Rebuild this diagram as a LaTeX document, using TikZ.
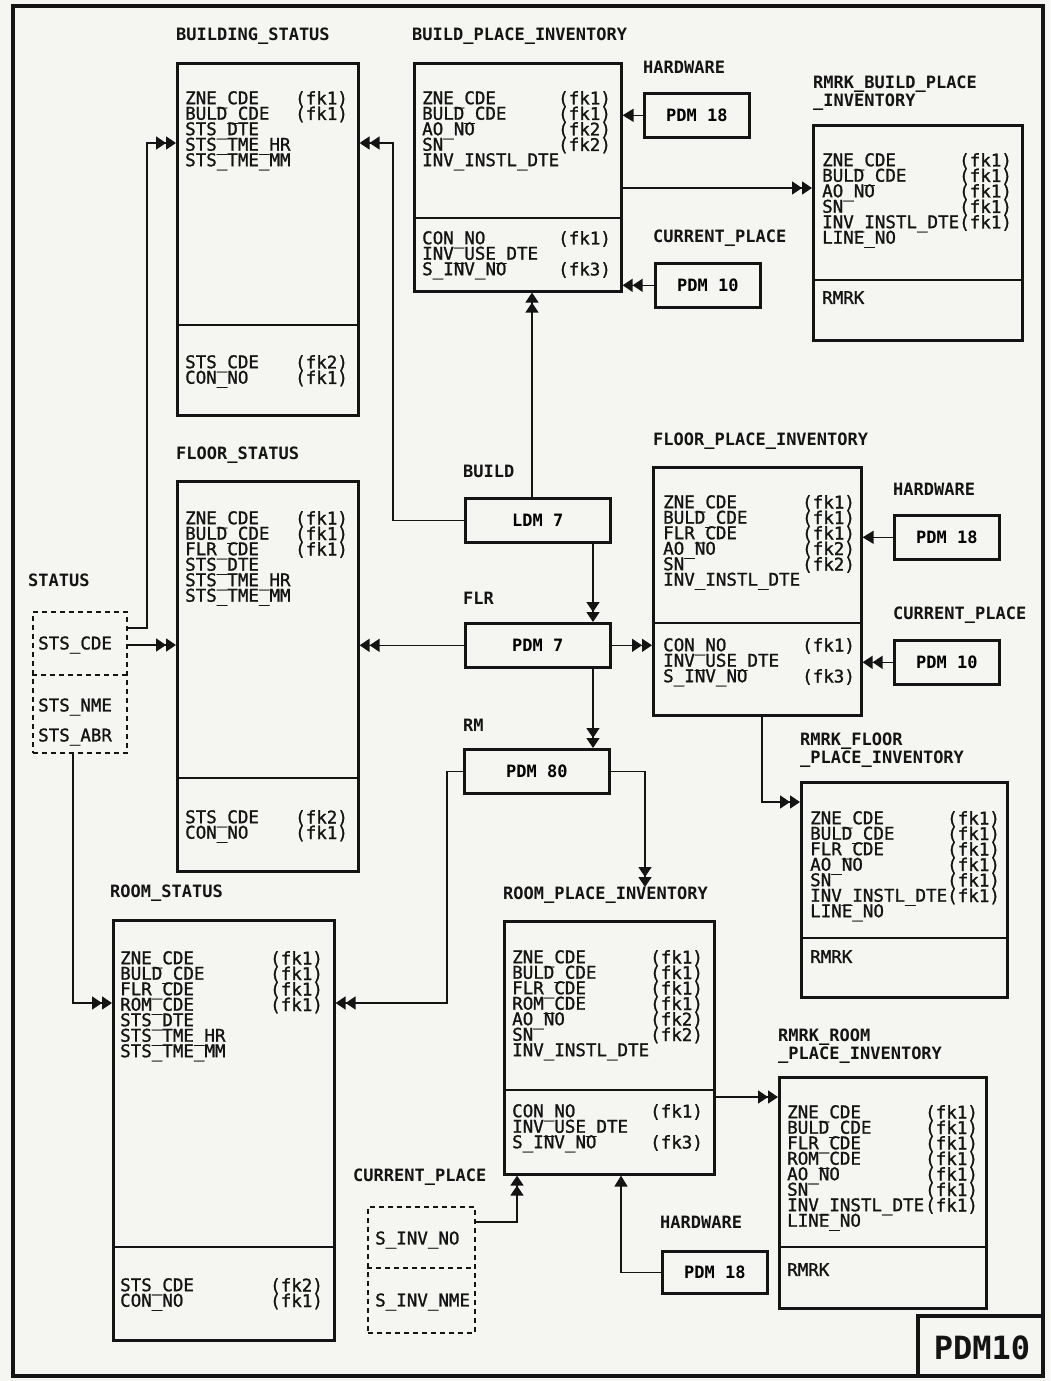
\documentclass[tikz,border=0pt]{standalone}
\usepackage{fontspec}
\usetikzlibrary{arrows.meta}
\newfontfamily\dbmono{DejaVu Sans Mono}
\newfontfamily\dbfield[FakeBold=1.2]{DejaVu Sans Mono}
\newcommand\fieldfont{\dbfield\fontsize{17.5}{15.5}\selectfont\lineskiplimit=-30pt}
\definecolor{paper}{HTML}{F5F5F2}
\definecolor{inkk}{HTML}{141414}
\tikzset{
  tbl/.style={draw=inkk, line width=2.6pt, anchor=north west, inner sep=0pt},
  keybox/.style={draw=inkk, line width=2.6pt, anchor=north west, inner sep=0pt,
    minimum width=105, minimum height=44, font=\dbmono\bfseries\fontsize{17}{17}\selectfont},
  dashbox/.style={draw=inkk, line width=1.8pt, dash pattern=on 5pt off 4pt, anchor=north west, inner sep=0pt},
  title/.style={anchor=west, inner sep=0pt, text=inkk, font=\dbmono\bfseries\fontsize{17}{15}\selectfont},
  title2/.style={anchor=north west, inner sep=0pt, align=left, text=inkk, font=\dbmono\bfseries\fontsize{17}{15}\selectfont},
  fields/.style={anchor=north west, inner sep=0pt, align=left, text=inkk, font=\fieldfont},
  divline/.style={inkk, line width=2.6pt},
  conn/.style={draw=inkk, line width=1.6pt},
  dbl/.style={conn, -{Triangle[length=10pt,width=13pt]Triangle[length=10pt,width=13pt]}},
  sgl/.style={conn, -{Triangle[length=11pt,width=13pt]}}
}
\begin{document}
\begin{tikzpicture}[x=1pt,y=-1pt]
  \useasboundingbox (0,0) rectangle (1050,1381);
  \fill[paper] (0,0) rectangle (1050,1381);
  % sheet frame
  \draw[inkk,line width=4pt] (13,6) rectangle (1043,1376);
  \draw[inkk,line width=4pt] (918,1376) |- (1043,1316);
  \node[font=\dbmono\bfseries\fontsize{32}{32}\selectfont,text=inkk] (sheet) at (982,1348) {PDM10};

  % BUILDING_STATUS
  \node[title] (bstatT) at (176,36) {BUILDING\_STATUS};
  \node[tbl, minimum width=181, minimum height=352] (bstat) at (176,62) {};
  \draw[divline] (bstat.west |- 0,325) -- (bstat.east |- 0,325);
  \node[fields] (bstatF) at (185,91) {ZNE\_CDE\\BULD\_CDE\\STS\_DTE\\STS\_TME\_HR\\STS\_TME\_MM};
  \node[fields] (bstatK) at (295,91) {(fk1)\\(fk1)};
  \node[fields] (bstatF2) at (185,355) {STS\_CDE\\CON\_NO};
  \node[fields] (bstatK2) at (295,355) {(fk2)\\(fk1)};

  % BUILD_PLACE_INVENTORY
  \node[title] (bpiT) at (412,36) {BUILD\_PLACE\_INVENTORY};
  \node[tbl, minimum width=207, minimum height=228] (bpi) at (413,62) {};
  \draw[divline] (bpi.west |- 0,218) -- (bpi.east |- 0,218);
  \node[fields] (bpiF) at (422,91) {ZNE\_CDE\\BULD\_CDE\\AO\_NO\\SN\\INV\_INSTL\_DTE};
  \node[fields] (bpiK) at (558,91) {(fk1)\\(fk1)\\(fk2)\\(fk2)};
  \node[fields] (bpiF2) at (422,231) {CON\_NO\\INV\_USE\_DTE\\S\_INV\_NO};
  \node[fields] (bpiK2) at (558,231) {(fk1)\\\mbox{}\\(fk3)};

  % HARDWARE / CURRENT_PLACE for build
  \node[title] (hwbT) at (643,67) {HARDWARE};
  \node[keybox] (hwb) at (643,92) {PDM 18};
  \draw[sgl] (hwb.west) -- (bpi.east |- hwb.west);
  \node[title] (cpbT) at (653,238) {CURRENT\_PLACE};
  \node[keybox] (cpb) at (654,262) {PDM 10};
  \draw[dbl] (cpb.west) -- (bpi.east |- cpb.west);

  % RMRK_BUILD_PLACE_INVENTORY
  \node[title2] (rbpiT) at (813,76) {RMRK\_BUILD\_PLACE\\\_INVENTORY};
  \node[tbl, minimum width=209, minimum height=215] (rbpi) at (812,124) {};
  \draw[divline] (rbpi.west |- 0,280) -- (rbpi.east |- 0,280);
  \node[fields] (rbpiF) at (822,153) {ZNE\_CDE\\BULD\_CDE\\AO\_NO\\SN\\INV\_INSTL\_DTE\\LINE\_NO};
  \node[fields] (rbpiK) at (959,153) {(fk1)\\(fk1)\\(fk1)\\(fk1)\\(fk1)};
  \node[fields] (rbpiF2) at (822,291) {RMRK};
  \draw[dbl] (bpi.east |- 0,188) -- (rbpi.west |- 0,188);

  % key boxes in the middle
  \node[title] (ldmT) at (463,471) {BUILD};
  \node[keybox, minimum width=145] (ldm) at (464,497) {LDM 7};
  \node[title] (pdmflrT) at (463,598) {FLR};
  \node[keybox, minimum width=145] (pdmflr) at (464,622) {PDM 7};
  \node[title] (pdmrmT) at (463,725) {RM};
  \node[keybox, minimum width=145] (pdmrm) at (463,748) {PDM 80};
  \coordinate (rpiHead) at (645,887);
  \draw[dbl] (ldm.north -| 532,0) -- (bpi.south -| 532,0);
  \draw[dbl] (ldm.west) -| (393,143) -- (bstat.east |- 0,143);
  \draw[dbl] (ldm.south -| 593,0) -- (pdmflr.north -| 593,0);
  \draw[dbl] (pdmflr.south -| 593,0) -- (pdmrm.north -| 593,0);
  \draw[dbl] (pdmflr.east) -- (pdmflr.east -| 652,0);
  \draw[dbl] (pdmrm.east) -| (rpiHead);

  % FLOOR_STATUS
  \node[title] (fstatT) at (176,455) {FLOOR\_STATUS};
  \node[tbl, minimum width=181, minimum height=390] (fstat) at (176,480) {};
  \draw[divline] (fstat.west |- 0,778) -- (fstat.east |- 0,778);
  \node[fields] (fstatF) at (185,511) {ZNE\_CDE\\BULD\_CDE\\FLR\_CDE\\STS\_DTE\\STS\_TME\_HR\\STS\_TME\_MM};
  \node[fields] (fstatK) at (295,511) {(fk1)\\(fk1)\\(fk1)};
  \node[fields] (fstatF2) at (185,810) {STS\_CDE\\CON\_NO};
  \node[fields] (fstatK2) at (295,810) {(fk2)\\(fk1)};
  \draw[dbl] (pdmflr.west) -- (fstat.east |- pdmflr.west);

  % STATUS
  \node[title] (statusT) at (28,580) {STATUS};
  \node[dashbox, minimum width=94, minimum height=141] (status) at (32,611) {};
  \draw[inkk, line width=1.8pt, dash pattern=on 5pt off 4pt] (status.west |- 0,675) -- (status.east |- 0,675);
  \node[fields, anchor=west] (statusF1) at (38,645) {STS\_CDE};
  \node[fields, anchor=west] (statusF2) at (38,707) {STS\_NME};
  \node[fields, anchor=west] (statusF3) at (38,737) {STS\_ABR};
  \draw[dbl] (status.east |- 0,628) -| (147,143) -- (bstat.west |- 0,143);
  \draw[dbl] (status.east |- 0,645) -- (fstat.west |- 0,645);

  % FLOOR_PLACE_INVENTORY
  \node[title] (fpiT) at (653,441) {FLOOR\_PLACE\_INVENTORY};
  \node[tbl, minimum width=208, minimum height=248] (fpi) at (652,466) {};
  \draw[divline] (fpi.west |- 0,623) -- (fpi.east |- 0,623);
  \node[fields] (fpiF) at (663,495) {ZNE\_CDE\\BULD\_CDE\\FLR\_CDE\\AO\_NO\\SN\\INV\_INSTL\_DTE};
  \node[fields] (fpiK) at (802,495) {(fk1)\\(fk1)\\(fk1)\\(fk2)\\(fk2)};
  \node[fields] (fpiF2) at (663,638) {CON\_NO\\INV\_USE\_DTE\\S\_INV\_NO};
  \node[fields] (fpiK2) at (802,638) {(fk1)\\\mbox{}\\(fk3)};

  % HARDWARE / CURRENT_PLACE for floor
  \node[title] (hwfT) at (893,489) {HARDWARE};
  \node[keybox] (hwf) at (893,514) {PDM 18};
  \draw[sgl] (hwf.west) -- (fpi.east |- hwf.west);
  \node[title] (cpfT) at (893,615) {CURRENT\_PLACE};
  \node[keybox] (cpf) at (893,639) {PDM 10};
  \draw[dbl] (cpf.west) -- (fpi.east |- cpf.west);

  % RMRK_FLOOR_PLACE_INVENTORY
  \node[title2] (rfpiT) at (800,733) {RMRK\_FLOOR\\\_PLACE\_INVENTORY};
  \node[tbl, minimum width=206, minimum height=215] (rfpi) at (800,781) {};
  \draw[divline] (rfpi.west |- 0,938) -- (rfpi.east |- 0,938);
  \node[fields] (rfpiF) at (810,811) {ZNE\_CDE\\BULD\_CDE\\FLR\_CDE\\AO\_NO\\SN\\INV\_INSTL\_DTE\\LINE\_NO};
  \node[fields] (rfpiK) at (947,811) {(fk1)\\(fk1)\\(fk1)\\(fk1)\\(fk1)\\(fk1)};
  \node[fields] (rfpiF2) at (810,950) {RMRK};
  \draw[dbl] (fpi.south -| 762,0) |- (rfpi.west |- 0,802);

  % ROOM_STATUS
  \node[title] (rstatT) at (110,893) {ROOM\_STATUS};
  \node[tbl, minimum width=221, minimum height=420] (rstat) at (112,919) {};
  \draw[divline] (rstat.west |- 0,1247) -- (rstat.east |- 0,1247);
  \node[fields] (rstatF) at (120,951) {ZNE\_CDE\\BULD\_CDE\\FLR\_CDE\\ROM\_CDE\\STS\_DTE\\STS\_TME\_HR\\STS\_TME\_MM};
  \node[fields] (rstatK) at (270,951) {(fk1)\\(fk1)\\(fk1)\\(fk1)};
  \node[fields] (rstatF2) at (120,1278) {STS\_CDE\\CON\_NO};
  \node[fields] (rstatK2) at (270,1278) {(fk2)\\(fk1)};
  \draw[dbl] (status.south -| 73,0) |- (rstat.west |- 0,1003);
  \draw[dbl] (pdmrm.west) -| (447,1003) -- (rstat.east |- 0,1003);

  % ROOM_PLACE_INVENTORY
  \node[title] (rpiT) at (503,895) {ROOM\_PLACE\_INVENTORY};
  \node[tbl, minimum width=210, minimum height=253] (rpi) at (503,920) {};
  \draw[divline] (rpi.west |- 0,1090) -- (rpi.east |- 0,1090);
  \node[fields] (rpiF) at (512,950) {ZNE\_CDE\\BULD\_CDE\\FLR\_CDE\\ROM\_CDE\\AO\_NO\\SN\\INV\_INSTL\_DTE};
  \node[fields] (rpiK) at (650,950) {(fk1)\\(fk1)\\(fk1)\\(fk1)\\(fk2)\\(fk2)};
  \node[fields] (rpiF2) at (512,1104) {CON\_NO\\INV\_USE\_DTE\\S\_INV\_NO};
  \node[fields] (rpiK2) at (650,1104) {(fk1)\\\mbox{}\\(fk3)};

  % CURRENT_PLACE for room
  \node[title] (cprT) at (353,1177) {CURRENT\_PLACE};
  \node[dashbox, minimum width=107, minimum height=126] (cpr) at (367,1206) {};
  \draw[inkk, line width=1.8pt, dash pattern=on 5pt off 4pt] (cpr.west |- 0,1268) -- (cpr.east |- 0,1268);
  \node[fields, anchor=west] (cprF1) at (375,1240) {S\_INV\_NO};
  \node[fields, anchor=west] (cprF2) at (375,1302) {S\_INV\_NME};
  \draw[dbl] (cpr.east |- 0,1222) -| (rpi.south -| 517,0);

  % HARDWARE for room
  \node[title] (hwrT) at (660,1222) {HARDWARE};
  \node[keybox, minimum height=42] (hwr) at (661,1250) {PDM 18};
  \draw[sgl] (hwr.west) -| (rpi.south -| 621,0);

  % RMRK_ROOM_PLACE_INVENTORY
  \node[title2] (rrpiT) at (778,1029) {RMRK\_ROOM\\\_PLACE\_INVENTORY};
  \node[tbl, minimum width=207, minimum height=231] (rrpi) at (778,1076) {};
  \draw[divline] (rrpi.west |- 0,1247) -- (rrpi.east |- 0,1247);
  \node[fields] (rrpiF) at (787,1105) {ZNE\_CDE\\BULD\_CDE\\FLR\_CDE\\ROM\_CDE\\AO\_NO\\SN\\INV\_INSTL\_DTE\\LINE\_NO};
  \node[fields] (rrpiK) at (925,1105) {(fk1)\\(fk1)\\(fk1)\\(fk1)\\(fk1)\\(fk1)\\(fk1)};
  \node[fields] (rrpiF2) at (787,1263) {RMRK};
  \draw[dbl] (rpi.east |- 0,1097) -- (rrpi.west |- 0,1097);
\end{tikzpicture}
\end{document}
